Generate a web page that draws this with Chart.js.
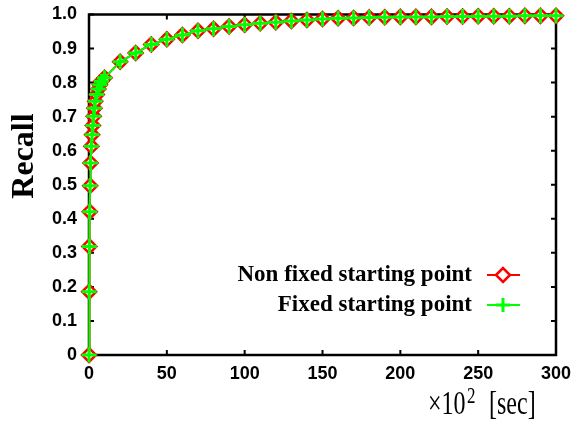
<!DOCTYPE html>
<html>
<head>
<meta charset="utf-8">
<script src="https://cdn.jsdelivr.net/npm/chart.js@4/dist/chart.umd.min.js"></script>
<style>
  html, body { margin: 0; padding: 0; background: #fff; }
  #wrap { width: 586px; height: 421px; position: relative; }
</style>
</head>
<body>
<div id="wrap"><canvas id="c" width="586" height="421"></canvas></div>
<script>
// Elapsed time (x 10^2 sec)
const timeX = [0, 0.1, 0.25, 0.5, 0.75, 1, 1.5, 2, 2.5, 3, 3.5, 4, 5, 6, 7, 8, 10,
  20, 30, 40, 50, 60, 70, 80, 90, 100, 110, 120, 130, 140, 150, 160, 170, 180, 190, 200,
  210, 220, 230, 240, 250, 260, 270, 280, 290, 300];

// Recall with a non fixed starting point
const nonFixedRecall = [0, 0.186, 0.319, 0.421, 0.497, 0.564, 0.613, 0.647, 0.674, 0.701, 0.725, 0.745, 0.765, 0.781, 0.794, 0.804, 0.814,
  0.861, 0.887, 0.912, 0.927, 0.940, 0.952, 0.958, 0.965, 0.970, 0.974, 0.977, 0.981, 0.984, 0.987, 0.989, 0.990, 0.991, 0.992, 0.993,
  0.993, 0.993, 0.994, 0.994, 0.995, 0.995, 0.995, 0.996, 0.996, 0.996];

// Recall with a fixed starting point
const fixedRecall = [0, 0.186, 0.319, 0.421, 0.497, 0.564, 0.613, 0.647, 0.674, 0.701, 0.725, 0.745, 0.765, 0.781, 0.794, 0.804, 0.814,
  0.861, 0.887, 0.912, 0.927, 0.940, 0.952, 0.958, 0.965, 0.970, 0.974, 0.977, 0.981, 0.984, 0.987, 0.989, 0.990, 0.991, 0.992, 0.993,
  0.993, 0.993, 0.994, 0.994, 0.995, 0.995, 0.995, 0.996, 0.996, 0.996];

const xTicks = [0, 50, 100, 150, 200, 250, 300];
const yTicks = [0, 0.1, 0.2, 0.3, 0.4, 0.5, 0.6, 0.7, 0.8, 0.9, 1.0];
const seriesNames = ['Non fixed starting point', 'Fixed starting point'];

const RED = '#ff0000';
const GREEN = '#00ff00';

function pairs(xs, ys) { return xs.map((x, i) => ({ x: x, y: ys[i] })); }

// Frame with inward tick marks on all four sides, drawn under the markers
const framePlugin = {
  id: 'frame',
  beforeDatasetsDraw(chart) {
    const { ctx, chartArea: a, scales } = chart;
    ctx.save();
    ctx.strokeStyle = '#000';
    ctx.lineWidth = 2;
    const len = 5;
    ctx.beginPath();
    xTicks.forEach(v => {
      const px = scales.x.getPixelForValue(v);
      ctx.moveTo(px, a.bottom); ctx.lineTo(px, a.bottom - len);
      ctx.moveTo(px, a.top); ctx.lineTo(px, a.top + len);
    });
    yTicks.forEach(v => {
      const py = scales.y.getPixelForValue(v);
      ctx.moveTo(a.left, py); ctx.lineTo(a.left + len, py);
      ctx.moveTo(a.right, py); ctx.lineTo(a.right - len, py);
    });
    ctx.stroke();
    ctx.lineWidth = 2.5;
    ctx.strokeRect(a.left, a.top, a.right - a.left, a.bottom - a.top);
    ctx.restore();
  },
  afterDraw(chart) {
    const { ctx } = chart;
    ctx.save();
    ctx.fillStyle = '#000';
    // y axis title
    ctx.save();
    ctx.translate(25, 156);
    ctx.rotate(-Math.PI / 2);
    ctx.font = 'bold 32px "Liberation Serif"';
    ctx.textAlign = 'center';
    ctx.textBaseline = 'middle';
    ctx.fillText('Recall', 0, 0);
    ctx.restore();
    // x axis unit, set in a tall serif face
    ctx.save();
    ctx.translate(428, 414);
    ctx.scale(1, 1.4);
    ctx.textBaseline = 'alphabetic';
    ctx.textAlign = 'left';
    ctx.font = '24px "Liberation Serif"';
    ctx.fillText('\u00d710', 0, 0);
    ctx.font = '17px "Liberation Serif"';
    ctx.fillText('2', 39, -8);
    ctx.font = '24px "Liberation Serif"';
    ctx.fillText('[sec]', 61, 0);
    ctx.restore();

    // legend
    ctx.font = 'bold 23px "Liberation Serif"';
    ctx.textAlign = 'right';
    ctx.textBaseline = 'middle';
    const rows = [
      { y: 275, color: RED, kind: 'diamond' },
      { y: 305, color: GREEN, kind: 'plus' }
    ];
    rows.forEach((r, i) => {
      ctx.fillStyle = '#000';
      ctx.fillText(seriesNames[i], 472, r.y);
      ctx.strokeStyle = r.color;
      ctx.lineWidth = 2;
      ctx.beginPath();
      ctx.moveTo(487, r.y); ctx.lineTo(520, r.y);
      ctx.stroke();
      const cx = 503, rad = 7;
      ctx.beginPath();
      if (r.kind === 'diamond') {
        ctx.lineWidth = 2.5;
        ctx.moveTo(cx - rad, r.y); ctx.lineTo(cx, r.y - rad);
        ctx.lineTo(cx + rad, r.y); ctx.lineTo(cx, r.y + rad);
        ctx.closePath();
        ctx.fillStyle = '#fff';
        ctx.fill();
      } else {
        ctx.lineWidth = 3;
        ctx.moveTo(cx - rad, r.y); ctx.lineTo(cx + rad, r.y);
        ctx.moveTo(cx, r.y - rad); ctx.lineTo(cx, r.y + rad);
      }
      ctx.stroke();
    });
    ctx.restore();
  }
};

const tickFont = { family: '"Liberation Sans", Arial, sans-serif', size: 18, weight: 'bold' };

new Chart(document.getElementById('c'), {
  type: 'scatter',
  data: {
    datasets: [
      {
        label: seriesNames[0],
        data: pairs(timeX, nonFixedRecall),
        showLine: true,
        borderColor: RED,
        borderWidth: 2,
        pointStyle: 'rectRot',
        pointRadius: 7,
        pointBorderWidth: 2.5,
        pointBackgroundColor: '#fff',
        pointBorderColor: RED,
        order: 1,
        clip: false
      },
      {
        label: seriesNames[1],
        data: pairs(timeX, fixedRecall),
        showLine: true,
        borderColor: GREEN,
        borderWidth: 2,
        pointStyle: 'cross',
        pointRadius: 7.5,
        pointBorderWidth: 3,
        pointBorderColor: GREEN,
        order: 0,
        clip: false
      }
    ]
  },
  options: {
    responsive: false,
    animation: false,
    layout: { padding: { left: 0, top: 14.5, right: 30, bottom: 0 } },
    plugins: { legend: { display: false }, tooltip: { enabled: false } },
    scales: {
      x: {
        type: 'linear', min: 0, max: 300,
        grid: { display: false, drawTicks: false },
        border: { display: false },
        afterBuildTicks: s => { s.ticks = xTicks.map(v => ({ value: v })); },
        afterFit: s => { s.height = 66; s.paddingLeft = 0; s.paddingRight = 0; },
        ticks: { font: tickFont, color: '#000', padding: 8, maxRotation: 0 }
      },
      y: {
        type: 'linear', min: 0, max: 1,
        grid: { display: false, drawTicks: false },
        border: { display: false },
        afterBuildTicks: s => { s.ticks = yTicks.map(v => ({ value: v })); },
        afterFit: s => { s.width = 89; s.paddingTop = 0; s.paddingBottom = 0; },
        ticks: {
          font: tickFont, color: '#000', padding: 12,
          callback: v => (v === 0 ? '0' : v.toFixed(1))
        }
      }
    }
  },
  plugins: [framePlugin]
});
</script>
</body>
</html>
